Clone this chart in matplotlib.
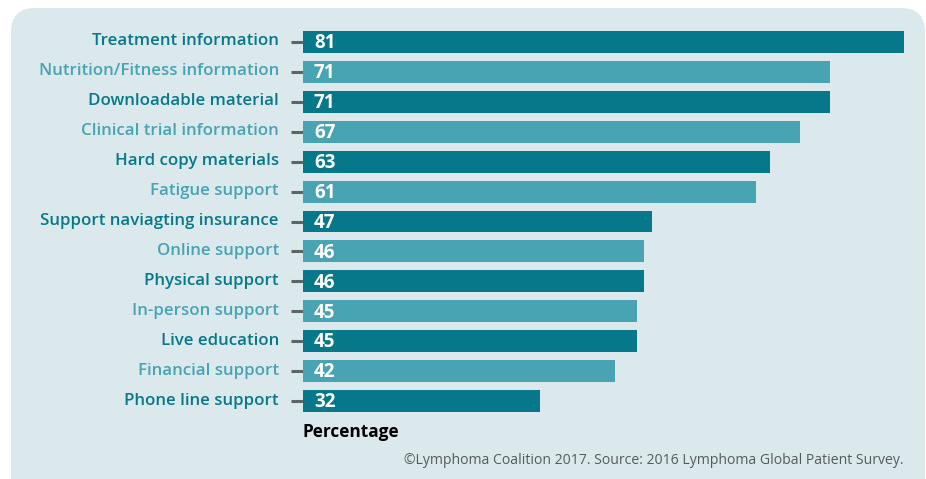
import matplotlib
matplotlib.use("Agg")
import matplotlib.pyplot as plt
from matplotlib.patches import FancyBboxPatch
from matplotlib.transforms import ScaledTranslation

categories = [
    "Treatment information",
    "Nutrition/Fitness information",
    "Downloadable material",
    "Clinical trial information",
    "Hard copy materials",
    "Fatigue support",
    "Support naviagting insurance",
    "Online support",
    "Physical support",
    "In-person support",
    "Live education",
    "Financial support",
    "Phone line support",
]
values = [81, 71, 71, 67, 63, 61, 47, 46, 46, 45, 45, 42, 32]

DARK = "#06788a"
LIGHT = "#48a3b3"
PANEL = "#dbe9ed"

plt.rcParams["font.family"] = ["Open Sans", "DejaVu Sans"]

W, H, DPI = 926, 479, 100
fig = plt.figure(figsize=(W / DPI, H / DPI), dpi=DPI)
fig.patch.set_facecolor("white")

# rounded background panel (inches)
panel = FancyBboxPatch((0.11, -0.4), 9.14, 4.79 - 0.08 + 0.4,
                       boxstyle="round,pad=0,rounding_size=0.24",
                       transform=fig.dpi_scale_trans, facecolor=PANEL,
                       edgecolor="none", zorder=-10)
fig.patches.append(panel)

px_per_unit = (904 - 303) / 81
left = 303 / W
width = (W - 303) / W
top_px, bot_px = 27, 416
ax = fig.add_axes([left, 1 - bot_px / H, width, (bot_px - top_px) / H])
ax.set_facecolor("none")
ax.set_xlim(0, (W - 303) / px_per_unit)
ax.set_ylim(len(values) - 0.5, -0.5)

colors = [DARK if i % 2 == 0 else LIGHT for i in range(len(values))]
ys = list(range(len(values)))
ax.barh(ys, values, height=0.735, color=colors, zorder=2)

for s in ax.spines.values():
    s.set_visible(False)
ax.set_xticks([])
ax.set_yticks(ys)
ax.set_yticklabels([])
ax.tick_params(axis="y", length=0, width=0)

# short tick marks left of bars
tick_tr = ax.get_yaxis_transform()
for y in ys:
    ax.plot([-12 / (W - 303), 0], [y, y], transform=tick_tr,
            color="#5f6466", lw=2.2, solid_capstyle="butt", clip_on=False,
            zorder=1)

# category labels
lab_off = ScaledTranslation(-24 / DPI, -3.5 / DPI, fig.dpi_scale_trans)
for y, cat, c in zip(ys, categories, colors):
    ax.text(0, y, cat, transform=tick_tr + lab_off, ha="right", va="baseline",
            fontsize=12.2, fontweight="semibold", color=c, clip_on=False)

# value labels inside bars
val_off = ScaledTranslation(11 / DPI, -6.3 / DPI, fig.dpi_scale_trans)
for y, v in zip(ys, values):
    ax.text(0, y, str(v), transform=ax.transData + val_off, ha="left",
            va="baseline", fontsize=13.5, fontweight="bold", color="white",
            zorder=3)

fig.text(302 / W, 1 - 437 / H, "Percentage", ha="left", va="baseline",
         fontsize=12.4, fontweight="bold", color="black")
fig.text(904 / W, 1 - 464 / H,
         "\u00a9Lymphoma Coalition 2017. Source: 2016 Lymphoma Global Patient Survey.",
         ha="right", va="baseline", fontsize=10.1, color="#555a5c")

fig.savefig("out.png", dpi=DPI, facecolor=fig.get_facecolor())
